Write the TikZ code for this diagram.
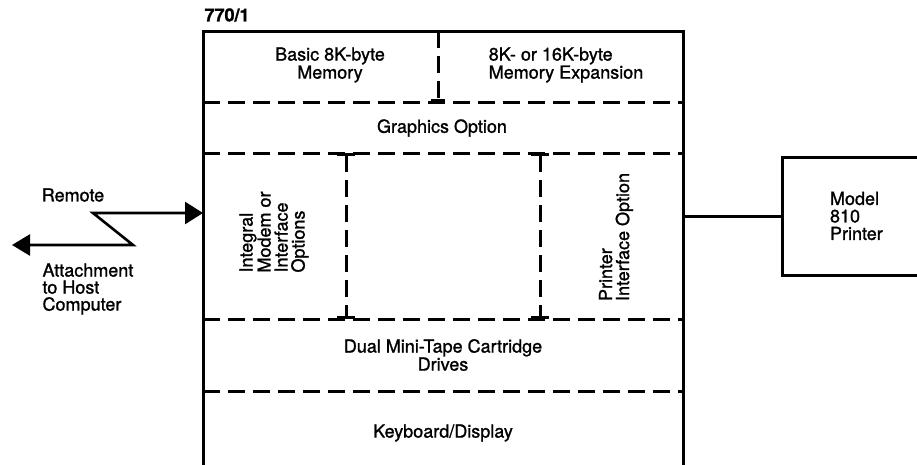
\documentclass[tikz,border=0pt]{standalone}
\usepackage{fontspec}
\setmainfont{TeX Gyre Heros}[FakeBold=1.2]
\usetikzlibrary{arrows.meta,positioning,calc}

\begin{document}
\begin{tikzpicture}[
  x=1pt, y=-1pt,
  font=\fontsize{18}{17}\selectfont,
  wall/.style={line width=3pt},
  divider/.style={line width=3pt, dash pattern=on 17pt off 8pt},
  sidetext/.style={rotate=90, align=left},
  capped/.style={{Bar[width=18pt,line width=3pt]}-{Bar[width=18pt,line width=3pt]}}
]
  \useasboundingbox (0,0) rectangle (917,464);
  \clip (0,0) rectangle (917,464);

  % the 770/1 unit, open at the bottom of the page
  \node[draw, wall, outer sep=0pt, inner sep=0pt, anchor=north west,
        minimum width=480pt, minimum height=460pt] (unit) at (203,31) {};
  \node[anchor=west, font=\fontsize{18}{17}\selectfont\bfseries] (title) at (201,15) {770/1};

  % dashed dividers
  \draw[divider] (unit.west |- 0,102) -- (unit.east |- 0,102);
  \draw[divider] (unit.west |- 0,153) -- (unit.east |- 0,153);
  \draw[divider] (unit.west |- 0,319) -- (unit.east |- 0,319);
  \draw[divider] (unit.west |- 0,391) -- (unit.east |- 0,391);
  \draw[divider, -{Bar[width=14pt,line width=3pt]}] (438,31) -- (438,102);
  \draw[divider, capped] (346,153) -- (346,319);
  \draw[divider, capped] (540,153) -- (540,319);

  % sections
  \node[align=center] (mem)  at (330,65)  {Basic 8K-byte\\Memory};
  \node[align=left]   (memx) at (566,65)  {8K- or 16K-byte\\Memory Expansion};
  \node               (gfx)  at (442,128) {Graphics Option};
  \node[sidetext]     (modem)   at (274,232) {Integral\\Modem or\\Interface\\Options};
  \node[sidetext]     (printif) at (616,237) {Printer\\Interface Option};
  \node[align=center] (tape) at (443,355) {Dual Mini-Tape Cartridge\\Drives};
  \node               (kbd)  at (443,433) {Keyboard/Display};

  % printer
  \node[draw, wall, outer sep=0pt, anchor=west, minimum height=118pt,
        text width=62pt, inner xsep=48pt, align=left,
        font=\fontsize{18}{17.5}\selectfont] (printer) at (782,216) {Model\\810\\Printer};
  \draw[wall] (unit.east |- printer.west) -- (printer.west);

  % remote host link
  \coordinate (zTop) at (93,213);
  \coordinate (zBot) at (133,245);
  \coordinate (hostEnd) at (12,245);
  \node (remote) at (73,195) {Remote};
  \node[align=left, anchor=west] (host) at (39,289) {Attachment\\to Host\\Computer};
  \draw[line width=2.6pt, {Triangle[length=18pt,width=21pt]}-{Triangle[length=18pt,width=22pt]}]
    (hostEnd) -- (zBot) -- (zTop) -- (unit.west |- zTop);
\end{tikzpicture}
\end{document}
